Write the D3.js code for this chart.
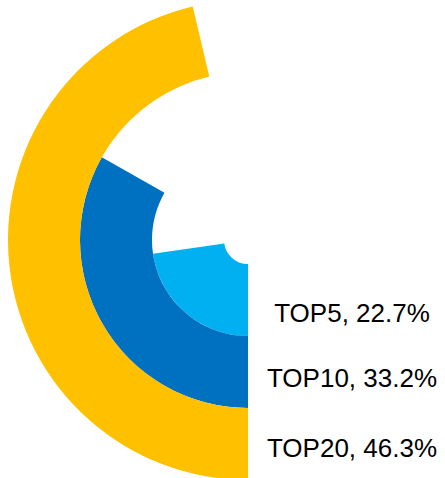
<!DOCTYPE html>
<html>
<head>
<meta charset="utf-8">
<script src="https://cdn.jsdelivr.net/npm/d3@7"></script>
<style>
  html, body { margin: 0; padding: 0; background: #fff; }
  svg { display: block; }
</style>
</head>
<body>
<svg id="chart" width="445" height="478"></svg>
<script>
const categories = ["TOP5", "TOP10", "TOP20"];
const values = [22.7, 33.2, 46.3];
const colors = ["#00B0F0", "#0070C0", "#FFC000"];

const W = 445, H = 478;
const cx = 248, cy = 240;
const innerR = 24, outerR = 240;
const labelX = 352;
const labelDy = [22, 15, 13];

const svg = d3.select("#chart");
const g = svg.append("g").attr("transform", `translate(${cx},${cy})`);

const r = d3.scaleBand().domain(categories).range([innerR, outerR]).padding(0);
const a = d3.scaleLinear().domain([0, 100]).range([Math.PI, 3 * Math.PI]);

const arc = d3.arc()
  .innerRadius(d => r(d.cat))
  .outerRadius(d => r(d.cat) + r.bandwidth())
  .startAngle(a(0))
  .endAngle(d => a(d.val));

const data = categories.map((c, i) => ({ cat: c, val: values[i], color: colors[i], i }));

g.selectAll("path.bar")
  .data(data)
  .join("path")
  .attr("class", "bar")
  .attr("d", arc)
  .attr("fill", d => d.color);

svg.selectAll("text.lbl")
  .data(data)
  .join("text")
  .attr("class", "lbl")
  .attr("x", labelX)
  .attr("y", d => cy + r(d.cat) + r.bandwidth() / 2 + labelDy[d.i])
  .attr("text-anchor", "middle")
  .attr("font-family", "Arial, 'Liberation Sans', sans-serif")
  .attr("font-size", 26)
  .attr("fill", "#000")
  .text(d => `${d.cat}, ${d.val.toFixed(1)}%`);
</script>
</body>
</html>
